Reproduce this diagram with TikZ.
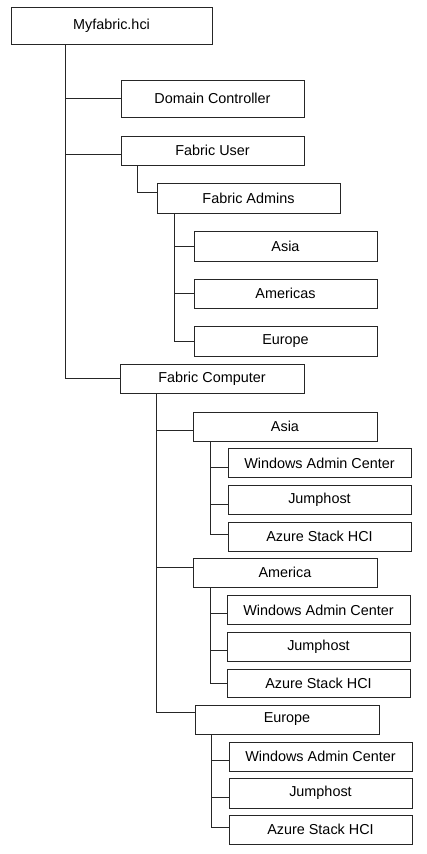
\documentclass[tikz,border=0pt]{standalone}
\usepackage{fontspec}
\setmainfont{Liberation Sans}
\usepackage{tikz}
\usetikzlibrary{positioning,calc}

\begin{document}
\begin{tikzpicture}[x=1pt,y=-1pt,
  box/.style={draw=black!85,line width=1pt,minimum width=183pt,minimum height=29pt,inner sep=0pt,
    font=\fontsize{14.4}{17}\selectfont},
  link/.style={draw=black!85,line width=1pt}]

\useasboundingbox (0,0) rectangle (426,854);

% Root and first level
\node[box,minimum width=201pt,minimum height=37pt] (root) at (111.5,25.5) {Myfabric.hci};
\node[box,minimum height=37pt] (dc) at (212.5,98.5) {Domain Controller};
\node[box] (fuser) at (212.5,150.5) {Fabric User};
\node[box,minimum height=30pt] (fadmins) at (248.5,198) {Fabric Admins};
\node[box,minimum height=30pt] (uasia) at (285.5,246) {Asia};
\node[box] (uamer) at (285.5,293.5) {Americas};
\node[box,minimum height=30pt] (ueur) at (285.5,341) {Europe};
\node[box,minimum width=184pt] (fcomp) at (212,378.5) {Fabric Computer};

% Computer regions
\node[box,minimum width=184pt] (casia) at (285,426.5) {Asia};
\node[box] (casiawac) at (319.5,463) {Windows Admin Center};
\node[box] (casiajump) at (319.5,500) {Jumphost};
\node[box] (casiahci) at (319.5,536.5) {Azure Stack HCI};

\node[box,minimum width=184pt] (camer) at (285,572.5) {America};
\node[box] (camerwac) at (318.5,610) {Windows Admin Center};
\node[box] (camerjump) at (318.5,646.5) {Jumphost};
\node[box,minimum height=28pt] (camerhci) at (318.5,683) {Azure Stack HCI};

\node[box,minimum width=184pt] (ceur) at (287,719.5) {Europe};
\node[box] (ceurwac) at (320.5,756.5) {Windows Admin Center};
\node[box,minimum height=30pt] (ceurjump) at (320.5,793) {Jumphost};
\node[box] (ceurhci) at (320.5,829.5) {Azure Stack HCI};

% Links from root
\draw[link] ([xshift=55pt]root.south west) |- (dc.west);
\draw[link] ([xshift=55pt]root.south west) |- ([yshift=-3.5pt]fuser.west);
\draw[link] ([xshift=55pt]root.south west) |- (fcomp.west);

% Fabric User
\draw[link] ([xshift=17pt]fuser.south west) |- ([yshift=6pt]fadmins.west);
\draw[link] ([xshift=18pt]fadmins.south west) |- (uasia.west);
\draw[link] ([xshift=18pt]fadmins.south west) |- (uamer.west);
\draw[link] ([xshift=18pt]fadmins.south west) |- (ueur.west);

% Fabric Computer
\draw[link] ([xshift=37pt]fcomp.south west) |- ([yshift=-3.5pt]casia.west);
\draw[link] ([xshift=37pt]fcomp.south west) |- ([yshift=5.5pt]camer.west);
\draw[link] ([xshift=37pt]fcomp.south west) |- ([yshift=7.5pt]ceur.west);

% Asia
\draw[link] ([xshift=18pt]casia.south west) |- ([yshift=-4pt]casiawac.west);
\draw[link] ([xshift=18pt]casia.south west) |- ([yshift=-4pt]casiajump.west);
\draw[link] ([xshift=18pt]casia.south west) |- ([yshift=2.5pt]casiahci.west);

% America
\draw[link] ([xshift=18pt]camer.south west) |- ([yshift=-3pt]camerwac.west);
\draw[link] ([xshift=18pt]camer.south west) |- ([yshift=-3.5pt]camerjump.west);
\draw[link] ([xshift=18pt]camer.south west) |- (camerhci.west);

% Europe
\draw[link] ([xshift=17pt]ceur.south west) |- ([yshift=-3.5pt]ceurwac.west);
\draw[link] ([xshift=17pt]ceur.south west) |- ([yshift=-4pt]ceurjump.west);
\draw[link] ([xshift=17pt]ceur.south west) |- ([yshift=2.5pt]ceurhci.west);

\end{tikzpicture}
\end{document}
